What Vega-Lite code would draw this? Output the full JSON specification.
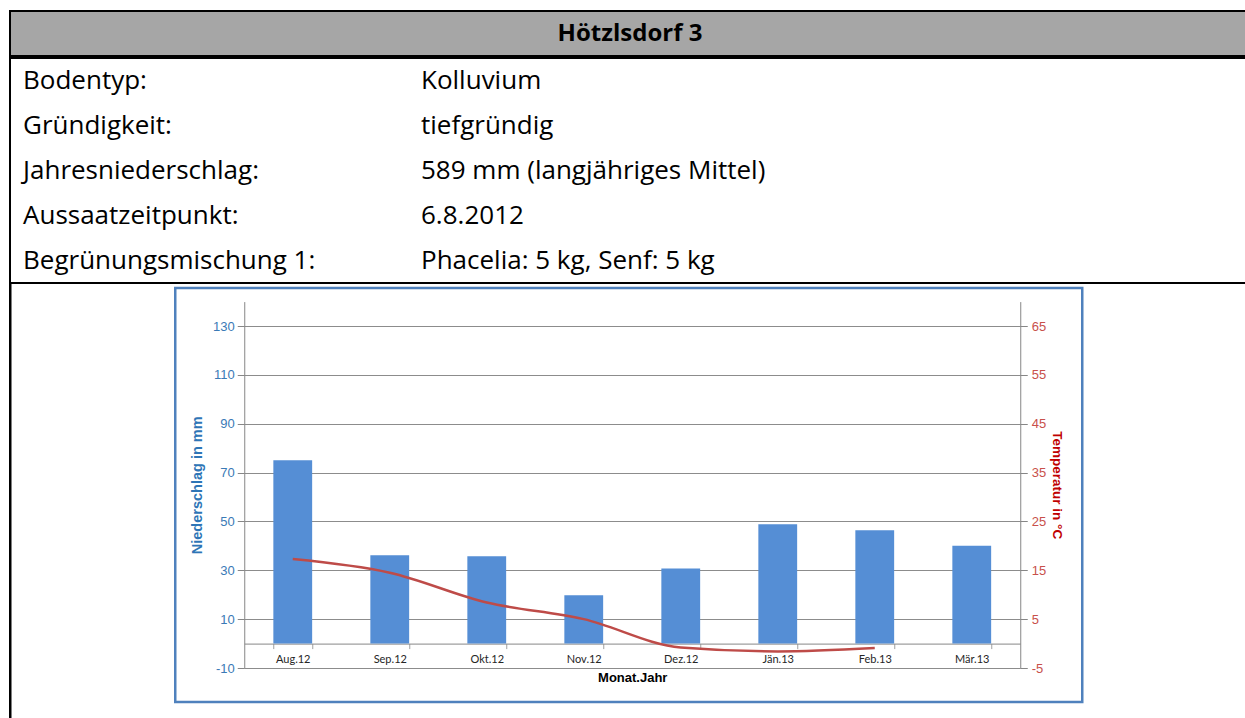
{
  "$schema": "https://vega.github.io/schema/vega-lite/v6.json",
  "background": "white",
  "padding": {"left": 9, "top": 10, "right": -6, "bottom": -8},
  "spacing": 0,
  "config": {"concat": {"spacing": 0}},
  "datasets": {
    "klima": [
      {"Monat": "Aug.12", "Niederschlag": 75.1, "Temperatur": 17.3},
      {"Monat": "Sep.12", "Niederschlag": 36.2, "Temperatur": 14.5},
      {"Monat": "Okt.12", "Niederschlag": 35.8, "Temperatur": 8.4},
      {"Monat": "Nov.12", "Niederschlag": 19.8, "Temperatur": 5.0},
      {"Monat": "Dez.12", "Niederschlag": 30.7, "Temperatur": -0.8},
      {"Monat": "Jän.13", "Niederschlag": 48.9, "Temperatur": -1.6},
      {"Monat": "Feb.13", "Niederschlag": 46.4, "Temperatur": -0.9},
      {"Monat": "Mär.13", "Niederschlag": 40.0, "Temperatur": null}
    ],
    "tabelle": [
      {"Merkmal": "Bodentyp:", "Wert": "Kolluvium"},
      {"Merkmal": "Gründigkeit:", "Wert": "tiefgründig"},
      {"Merkmal": "Jahresniederschlag:", "Wert": "589 mm (langjähriges Mittel)"},
      {"Merkmal": "Aussaatzeitpunkt:", "Wert": "6.8.2012"},
      {"Merkmal": "Begrünungsmischung 1:", "Wert": "Phacelia: 5 kg, Senf: 5 kg"}
    ]
  },
  "vconcat": [
    {
      "width": 1240,
      "height": 45,
      "view": {"fill": "#a6a6a6", "stroke": "black", "strokeWidth": 2},
      "data": {"values": [{"titel": "Hötzlsdorf 3"}]},
      "mark": {"type": "text", "font": "Open Sans", "fontWeight": "bold", "fontSize": 24, "color": "black", "baseline": "middle"},
      "encoding": {"text": {"field": "titel"}}
    },
    {
      "width": 1240,
      "height": 225,
      "view": {"stroke": "black", "strokeWidth": 2},
      "data": {"name": "tabelle"},
      "transform": [{"fold": ["Merkmal", "Wert"], "as": ["Spalte", "Text"]}],
      "mark": {"type": "text", "align": "left", "baseline": "middle", "font": "Open Sans", "fontSize": 26, "color": "black"},
      "encoding": {
        "x": {"field": "Spalte", "type": "nominal", "scale": {"type": "point", "range": [13, 411], "padding": 0}, "axis": null},
        "y": {"field": "Merkmal", "type": "nominal", "sort": null, "scale": {"type": "band", "paddingInner": 0, "paddingOuter": 0}, "axis": null},
        "text": {"field": "Text"}
      }
    },
    {
      "spacing": 161.25,
      "hconcat": [
        {
          "width": 0.5,
          "height": 440,
          "view": {"stroke": "black", "strokeWidth": 2},
          "data": {"values": []},
          "mark": "rect"
        },
        {
          "spacing": 0,
          "vconcat": [
            {
              "width": 1,
              "height": 1,
              "view": {"stroke": null},
              "data": {"values": []},
              "mark": "rect"
            },
            {
              "width": 907,
              "height": 414,
              "view": {"stroke": "#4f81bd", "strokeWidth": 2.5, "fill": "white"},
              "data": {"name": "klima"},
              "encoding": {
                "x": {
                  "field": "Monat",
                  "type": "nominal",
                  "sort": null,
                  "scale": {"type": "band", "range": [69, 845], "paddingInner": 0.6, "paddingOuter": 0.3},
                  "axis": {
                    "title": "Monat.Jahr",
                    "orient": "bottom",
                    "offset": -58.4,
                    "labelAngle": 0,
                    "grid": false,
                    "domainColor": "#868686",
                    "tickColor": "#a0a0a0",
                    "tickSize": 5,
                    "tickBand": "extent",
                    "labelPadding": 5,
                    "labelFont": "Lato",
                    "labelFontSize": 11,
                    "labelColor": "#262626",
                    "titleFont": "Liberation Sans",
                    "titleFontSize": 13,
                    "titleFontWeight": "bold",
                    "titleColor": "black",
                    "titlePadding": 7
                  }
                }
              },
              "layer": [
                {
                  "mark": {"type": "bar", "color": "#558ed5"},
                  "encoding": {
                    "y": {
                      "field": "Niederschlag",
                      "type": "quantitative",
                      "scale": {"domain": [-10, 140], "range": [380, 13.6], "nice": false, "zero": false},
                      "axis": {
                        "title": "Niederschlag in mm",
                        "orient": "left",
                        "offset": -69,
                        "values": [-10, 10, 30, 50, 70, 90, 110, 130],
                        "labelExpr": "'' + datum.value",
                        "grid": true,
                        "gridColor": "#8c8c8c",
                        "gridWidth": 1,
                        "domainColor": "#868686",
                        "tickColor": "#868686",
                        "tickSize": 7,
                        "labelPadding": 3,
                        "labelFont": "Liberation Sans",
                        "labelFontSize": 13,
                        "labelColor": "#3a7ab6",
                        "titleFont": "Liberation Sans",
                        "titleFontSize": 14.5,
                        "titleFontWeight": "bold",
                        "titleColor": "#2e75b6",
                        "titlePadding": 8
                      }
                    },
                    "y2": {"datum": 0}
                  }
                },
                {
                  "mark": {"type": "line", "color": "#be4b48", "strokeWidth": 2.5, "interpolate": "monotone"},
                  "encoding": {
                    "y": {
                      "field": "Temperatur",
                      "type": "quantitative",
                      "scale": {"domain": [-5, 70], "range": [380, 13.6], "nice": false, "zero": false},
                      "axis": {
                        "title": "Temperatur in °C",
                        "orient": "right",
                        "offset": -62,
                        "values": [-5, 5, 15, 25, 35, 45, 55, 65],
                        "labelExpr": "'' + datum.value",
                        "grid": false,
                        "domainColor": "#868686",
                        "tickColor": "#868686",
                        "tickSize": 7,
                        "labelPadding": 4,
                        "labelFont": "Liberation Sans",
                        "labelFontSize": 13,
                        "labelColor": "#c8504b",
                        "titleFont": "Liberation Sans",
                        "titleFontSize": 13.5,
                        "titleFontWeight": "bold",
                        "titleColor": "#c00000",
                        "titlePadding": 4
                      }
                    }
                  }
                }
              ],
              "resolve": {"scale": {"y": "independent"}}
            }
          ]
        }
      ]
    }
  ]
}
